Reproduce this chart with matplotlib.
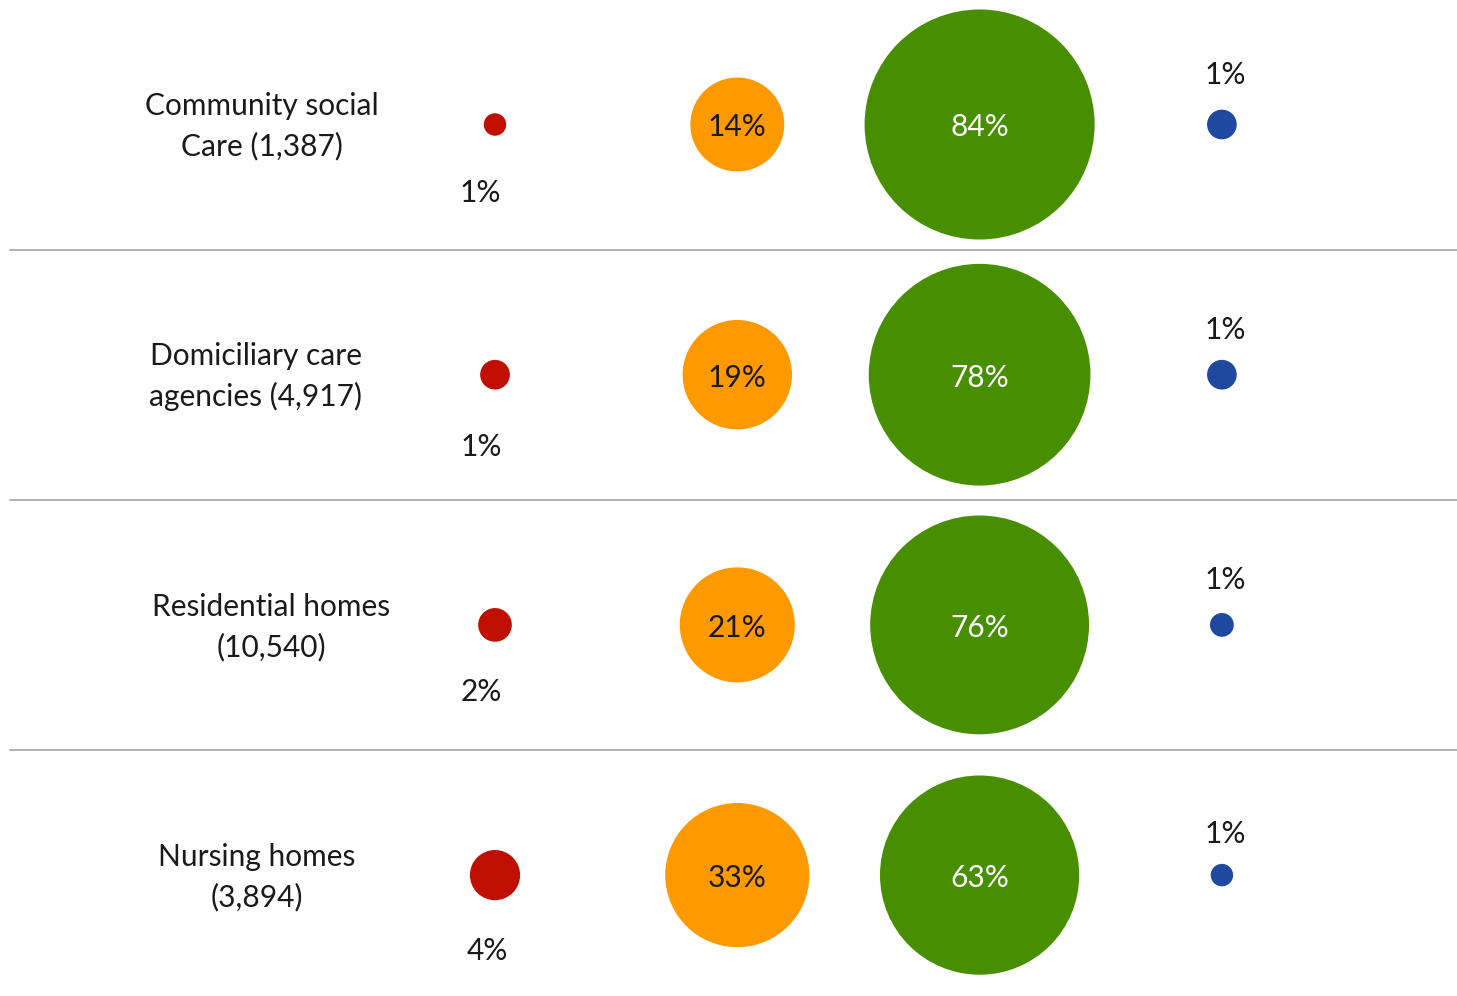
import matplotlib
matplotlib.use('Agg')
import matplotlib.pyplot as plt

plt.rcParams['font.family'] = ['Lato', 'DejaVu Sans']

# 数据
categories = ['Community social\nCare (1,387)', 'Domiciliary care\nagencies (4,917)',
              'Residential homes\n(10,540)', 'Nursing homes\n(3,894)']
red_vals = [0.8, 1.4, 1.8, 4.0]
orange_vals = [14, 19, 21, 33]
green_vals = [84, 78, 76, 63]
blue_vals = [1.4, 1.4, 0.9, 0.8]
red_labels = ['1%', '1%', '2%', '4%']
orange_labels = ['14%', '19%', '21%', '33%']
green_labels = ['84%', '78%', '76%', '63%']
blue_labels = ['1%', '1%', '1%', '1%']

colors = ['#C00F00', '#FF9900', '#488F00', '#1F48A0']
series = [red_vals, orange_vals, green_vals, blue_vals]

W, H, DPI = 1457, 996, 100
fig = plt.figure(figsize=(W / DPI, H / DPI), dpi=DPI)
ax = fig.add_axes([0, 0, 1, 1])

# 列间距约242像素，行间距约250像素
xs, ys = 242.3, 250.2
ax.set_xlim(-495 / xs, (W - 495) / xs)
ax.set_ylim((H - 124.5) / ys, -124.5 / ys)
ax.axis('off')

# 直径(像素) = 25.1 * sqrt(值)
px_per_unit = 25.1
for ci, (vals, col) in enumerate(zip(series, colors)):
    for ri, v in enumerate(vals):
        d_pt = px_per_unit * v ** 0.5 * 72 / DPI
        ax.scatter(ci, ri, s=d_pt ** 2, color=col, edgecolors='none', zorder=3)

fs = 21.5
txt = '#1a1a1a'
cat_x = [262, 256, 271, 257]   # 类别标签中心(像素)
red_dx = [-15, -14, -14, -8]
red_dy = [66, 70, 65, 74]
blue_dy = [-51, -47, -47, -43]
for ri in range(len(categories)):
    ax.text((cat_x[ri] - 495) / xs, ri + 2 / ys, categories[ri], ha='center',
            va='center', fontsize=fs, color=txt, linespacing=1.5)
    ax.text(red_dx[ri] / xs, ri + (red_dy[ri] + 2) / ys, red_labels[ri],
            ha='center', va='center', fontsize=fs, color=txt)
    ax.text(1, ri + 3 / ys, orange_labels[ri], ha='center', va='center',
            fontsize=fs, color=txt, zorder=4)
    ax.text(2, ri + 3 / ys, green_labels[ri], ha='center', va='center',
            fontsize=fs, color='white', zorder=4)
    ax.text(3 + 3 / xs, ri + (blue_dy[ri] + 2) / ys, blue_labels[ri],
            ha='center', va='center', fontsize=fs, color=txt)
    if ri < len(categories) - 1:
        ax.plot([(10 - 495) / xs, (W - 495) / xs], [ri + 0.5, ri + 0.5],
                color='#A6A6A6', lw=1.2, zorder=1)

fig.savefig('out.png', dpi=DPI)
